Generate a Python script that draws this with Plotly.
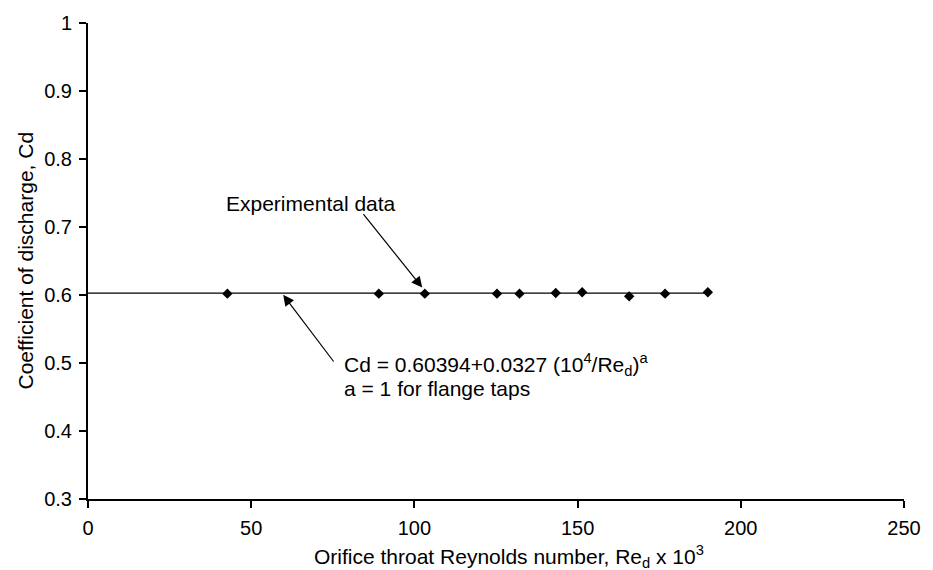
import plotly.graph_objects as go

# Data
re_x = [42.7, 89.1, 103.2, 125.3, 132.2, 143.3, 151.4, 165.8, 176.8, 189.9]
cd_y = [0.602, 0.602, 0.602, 0.602, 0.602, 0.603, 0.604, 0.598, 0.602, 0.604]
fit_x = [0, 190]
fit_y = [0.6027, 0.6027]
x_ticks = [0, 50, 100, 150, 200, 250]
y_ticks = [0.3, 0.4, 0.5, 0.6, 0.7, 0.8, 0.9, 1.0]
y_ticklabels = ["0.3", "0.4", "0.5", "0.6", "0.7", "0.8", "0.9", "1"]

FONT = "Liberation Sans, Arial, sans-serif"
TF = dict(family=FONT, size=21, color="black")

fig = go.Figure()
fig.add_trace(go.Scatter(x=fit_x, y=fit_y, mode="lines",
                         line=dict(color="black", width=1.3), showlegend=False))
fig.add_trace(go.Scatter(x=re_x, y=cd_y, mode="markers",
                         marker=dict(symbol="diamond", color="black", size=8),
                         showlegend=False))

ann = []
ann.append(dict(x=41.6, y=0.734, xref="x", yref="y", text="Experimental data",
                showarrow=False, xanchor="left", yanchor="middle", font=TF))
ann.append(dict(x=102.4, y=0.611, xref="x", yref="y", ax=84.0, ay=0.721,
                axref="x", ayref="y", text="", showarrow=True, arrowhead=2,
                arrowsize=1.8, arrowwidth=1.2, arrowcolor="black", standoff=0))
ann.append(dict(x=77.8, y=0.4975, xref="x", yref="y",
                text="Cd = 0.60394+0.0327 (10<sup>4</sup>/Re<sub>d</sub>)<sup>a</sup>",
                showarrow=False, xanchor="left", yanchor="middle", font=TF))
ann.append(dict(x=77.8, y=0.4625, xref="x", yref="y",
                text="a = 1 for flange taps",
                showarrow=False, xanchor="left", yanchor="middle", font=TF))
ann.append(dict(x=59.8, y=0.6003, xref="x", yref="y", ax=75.6, ay=0.5,
                axref="x", ayref="y", text="", showarrow=True, arrowhead=2,
                arrowsize=1.8, arrowwidth=1.2, arrowcolor="black", standoff=0))
# Axis titles
ann.append(dict(x=0.516, y=-0.12, xref="paper", yref="paper",
                text="Orifice throat Reynolds number, Re<sub>d</sub> x 10<sup>3</sup>",
                showarrow=False, xanchor="center", yanchor="middle", font=TF))
ann.append(dict(x=-0.0778, y=0.5, xref="paper", yref="paper",
                text="Coefficient of discharge, Cd", textangle=-90,
                showarrow=False, xanchor="center", yanchor="middle", font=TF))

fig.update_layout(
    width=933, height=570,
    margin=dict(l=88, r=22, t=16, b=71),
    plot_bgcolor="white", paper_bgcolor="white",
    font=dict(family=FONT, size=20, color="black"),
    annotations=ann,
    xaxis=dict(range=[0, 250], tickvals=x_ticks, showgrid=False, zeroline=False,
               showline=True, linecolor="black", linewidth=2,
               ticks="outside", ticklen=7, tickwidth=2, tickcolor="black",
               ticklabelstandoff=3,
               tickfont=dict(family=FONT, size=20, color="black")),
    yaxis=dict(range=[0.3, 1.0], tickvals=y_ticks, ticktext=y_ticklabels,
               showgrid=False, zeroline=False,
               showline=True, linecolor="black", linewidth=2,
               ticks="outside", ticklen=7, tickwidth=2, tickcolor="black",
               ticklabelstandoff=3,
               tickfont=dict(family=FONT, size=20, color="black")),
)

fig.write_html("out.html")
